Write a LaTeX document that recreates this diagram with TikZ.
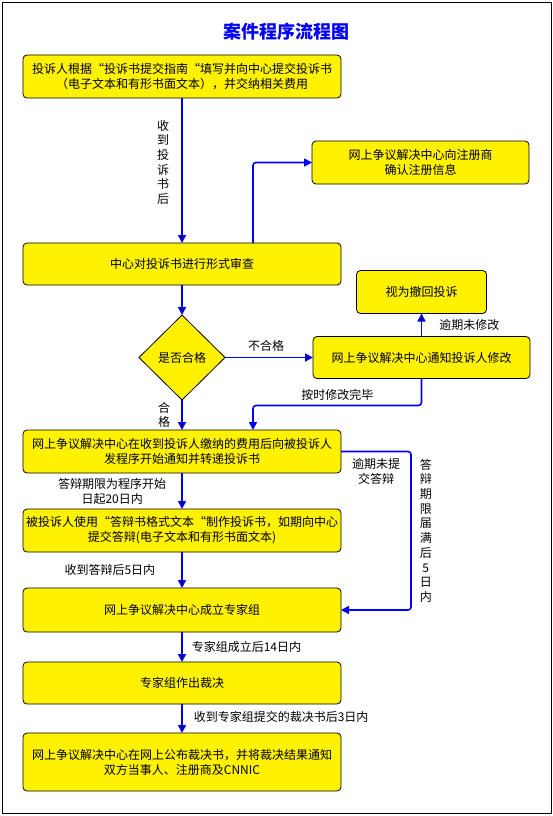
\documentclass[tikz,border=0pt]{standalone}
\usepackage{fontspec}
\setmainfont{Noto Sans CJK SC}
\usetikzlibrary{positioning,shapes.geometric,arrows.meta}

\begin{document}
\begin{tikzpicture}[x=1pt, y=-1pt, font=\fontsize{12}{15}\selectfont,
   box/.style={draw=black, line width=0.8pt, fill=yellow, rounded corners=4pt,
      minimum width=318pt, align=center, inner sep=2pt, outer sep=0pt},
   side/.style={box, minimum width=217pt},
   flow/.style={draw=blue, line width=1.6pt, -{Triangle[length=8pt,width=8pt]}},
   note/.style={inner sep=1pt, align=center},
   upright/.style={note, font=\fontsize{12}{14.7}\selectfont}]
      \useasboundingbox (0,0) rectangle (553,816);
      \draw[line width=0.8pt] (2.5,2.5) rectangle (551.5,813.5);

      \node[name=title, text=blue, font=\fontsize{18}{20}\selectfont\bfseries] at (286.5,32) {案件程序流程图};

      \node[box, name=submit, minimum height=43pt] at (182,76.5) {投诉人根据“投诉书提交指南“填写并向中心提交投诉书\\（电子文本和有形书面文本），并交纳相关费用};
      \node[box, name=check, minimum height=42pt, below=145pt of submit] {中心对投诉书进行形式审查};
      \node[diamond, draw=black, line width=0.8pt, fill=yellow, minimum width=86pt, minimum height=85pt,
         inner sep=1pt, outer sep=0pt, name=ok, below=30pt of check] {是否合格};
      \node[box, name=accept, minimum height=43pt, below=30pt of ok] {网上争议解决中心在收到投诉人缴纳的费用后向被投诉人\\发程序开始通知并转递投诉书};
      \node[box, name=reply, minimum height=43pt, below=36pt of accept] {被投诉人使用“答辩书格式文本“制作投诉书，如期向中心\\提交答辩(电子文本和有形书面文本)};
      \node[box, name=panel, minimum height=44pt, below=36pt of reply] {网上争议解决中心成立专家组};
      \node[box, name=award, minimum height=42pt, below=30pt of panel] {专家组作出裁决};
      \node[box, name=publish, minimum height=58pt, below=29pt of award] {网上争议解决中心在网上公布裁决书，并将裁决结果通知\\双方当事人、注册商及CNNIC};

      \node[side, name=confirm, minimum height=43pt] at (420.5,162.5) {网上争议解决中心向注册商\\确认注册信息};
      \node[side, name=notify, minimum height=42pt, right=88pt of ok] {网上争议解决中心通知投诉人修改};
      \node[box, name=withdraw, minimum width=130pt, minimum height=43pt, above=23pt of notify] {视为撤回投诉};

      \path[flow]
         (submit) edge node[upright, pos=0.444, left=11pt] {收\\到\\投\\诉\\书\\后} (check)
         (check) edge (ok)
         (ok) edge node[note, above=4pt, xshift=-3pt] {不合格} (notify)
         (notify) edge node[note, right=16pt] {逾期未修改} (withdraw)
         (ok) edge node[upright, left=10pt] {合\\格} (accept)
         (accept) edge node[note, left=14pt] {答辩期限为程序开始\\日起20日内} (reply)
         (reply) edge node[note, left=25pt] {收到答辩后5日内} (panel)
         (panel) edge node[note, right=8pt] {专家组成立后14日内} (award)
         (award) edge node[note, right=10pt, pos=0.45] {收到专家组提交的裁决书后3日内} (publish);

      \draw[flow, rounded corners=3pt] ([xshift=71pt]check.north) |- (confirm.west);
      \draw[flow, rounded corners=3pt] (notify.south) -- ++(0,27)
         -| node[note, pos=0.25, above=3pt] {按时修改完毕} ([xshift=71pt]accept.north);
      \draw[flow, rounded corners=3pt] (accept.east) -- node[note, below=5pt] {逾期未提\\交答辩} ++(70,0)
         |- node[upright, pos=0.25, right=7pt] {答\\辩\\期\\限\\届\\满\\后\\5\\日\\内} (panel.east);
   \end{tikzpicture}
\end{document}
